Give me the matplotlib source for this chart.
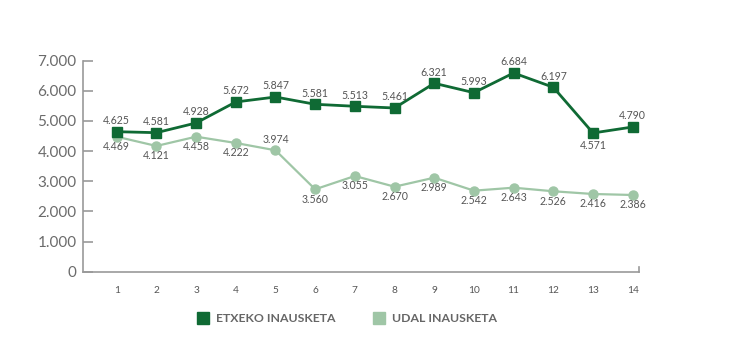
import matplotlib.pyplot as plt
from matplotlib.lines import Line2D
from matplotlib.ticker import FuncFormatter

plt.rcParams['font.family'] = ['Lato', 'DejaVu Sans']

# Datos
periodos = list(range(1, 15))
etxeko = [4645, 4612, 4934, 5631, 5796, 5554, 5488, 5431, 6251, 5939, 6593, 6118, 4602, 4801]
udal = [4479, 4171, 4479, 4270, 4028, 2734, 3175, 2820, 3119, 2688, 2787, 2668, 2578, 2545]
etxeko_etiketak = ['4.625', '4.581', '4.928', '5.672', '5.847', '5.581', '5.513',
                   '5.461', '6.321', '5.993', '6.684', '6.197', '4.571', '4.790']
udal_etiketak = ['4.469', '4.121', '4.458', '4.222', '3.974', '3.560', '3.055',
                 '2.670', '2.989', '2.542', '2.643', '2.526', '2.416', '2.386']
etxeko_beheran = [13]          # etiketa puntuaren azpian
udal_goian = [5]               # etiketa puntuaren gainean

ILUNA = '#0f6a34'
ARGIA = '#9fc6a6'
GRISA = '#6b6b6b'

fig = plt.figure(figsize=(7.51, 3.56), dpi=100)
ax = fig.add_axes([0.111, 0.2368, 0.7394, 0.5927])

ax.plot(periodos, udal, color=ARGIA, lw=1.6, marker='o', ms=6.5, mec=ARGIA, zorder=2)
ax.plot(periodos, etxeko, color=ILUNA, lw=2.0, marker='s', ms=6.8, mec=ILUNA, zorder=3)

for p, v, t in zip(periodos, etxeko, etxeko_etiketak):
    dy = -13 if p in etxeko_beheran else 11
    ax.annotate(t, (p, v), xytext=(0, dy), textcoords='offset pixels',
                ha='center', va='center', fontsize=7.6, color='#555555')
for p, v, t in zip(periodos, udal, udal_etiketak):
    dy = 11 if p in udal_goian else -10
    ax.annotate(t, (p, v), xytext=(0, dy), textcoords='offset pixels',
                ha='center', va='center', fontsize=7.6, color='#555555')

ax.set_xlim(0.16, 14.15)
ax.set_ylim(0, 7000)
ax.set_xticks(periodos)
ax.set_yticks(range(0, 7001, 1000))
ax.yaxis.set_major_formatter(FuncFormatter(lambda v, _: f'{int(v):,}'.replace(',', '.')))

ax.spines['top'].set_visible(False)
ax.spines['right'].set_bounds(0, 170)
for s in ['left', 'bottom', 'right']:
    ax.spines[s].set_color('#999999')
    ax.spines[s].set_linewidth(1.2)

ax.tick_params(axis='y', direction='in', length=7, width=1.2, color='#999999',
               labelsize=11, labelcolor=GRISA, pad=5)
ax.tick_params(axis='x', length=0, labelsize=7.3, labelcolor='#555555', pad=10)

eskuak = [Line2D([], [], ls='none', marker='s', ms=8.6, color=ILUNA),
          Line2D([], [], ls='none', marker='s', ms=8.6, color=ARGIA)]
fig.legend(eskuak, ['ETXEKO INAUSKETA', 'UDAL INAUSKETA'], loc='center',
           bbox_to_anchor=(0.462, 0.104), ncol=2, frameon=False,
           handlelength=1.0, handletextpad=0.6, columnspacing=3.0,
           prop={'size': 8.8, 'weight': 'bold'}, labelcolor='#666666')

fig.savefig('out.png', dpi=100)
